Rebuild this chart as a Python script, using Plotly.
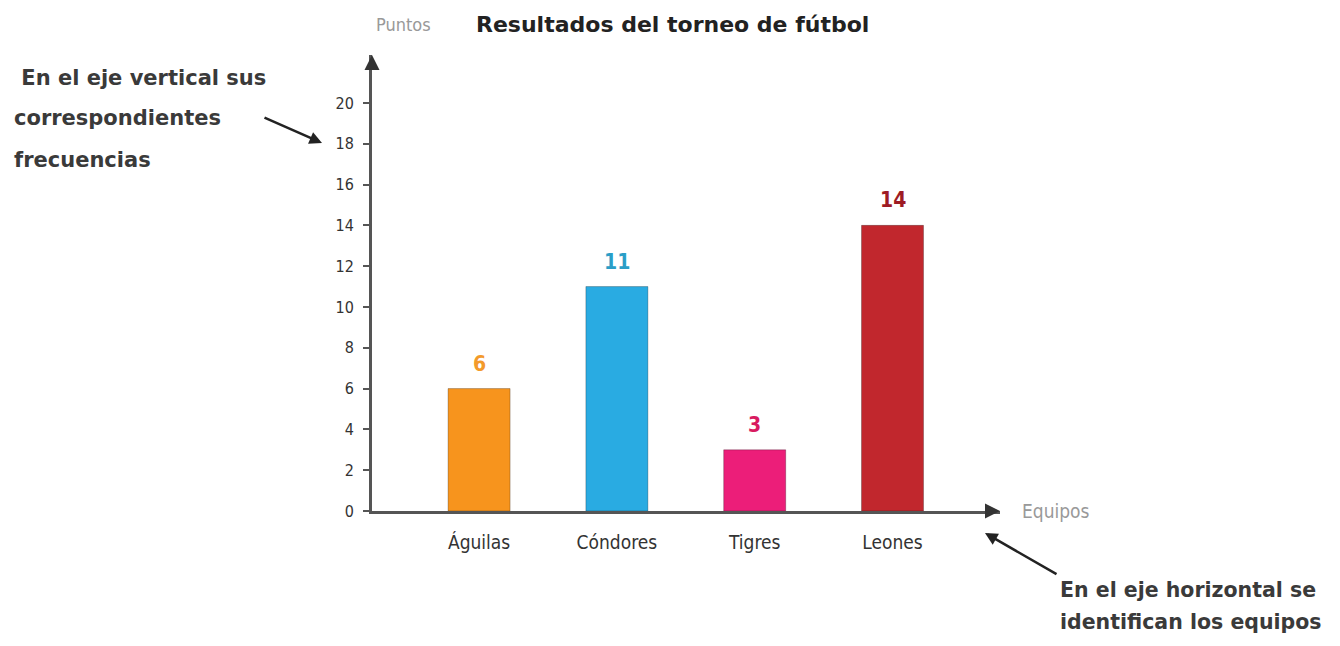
import plotly.graph_objects as go

equipos = ["Águilas", "Cóndores", "Tigres", "Leones"]
puntos = [6, 11, 3, 14]
bar_colors = ["#F7941D", "#29ABE2", "#EC1E79", "#C1272D"]
label_colors = ["#F39A2B", "#2A9EC7", "#D81B60", "#9E1B24"]
y_ticks = list(range(0, 21, 2))
nota_vertical = [" En el eje vertical sus", "correspondientes", "frecuencias"]
nota_horizontal = ["En el eje horizontal se", "identifican los equipos"]

FONT = "DejaVu Sans Condensed"
WIDE = "DejaVu Sans"

fig = go.Figure()
fig.add_trace(go.Bar(
    x=equipos, y=puntos,
    marker=dict(color=bar_colors, line=dict(color="rgba(0,0,0,0.25)", width=1)),
    width=0.45,
    cliponaxis=False,
))

OFF = 8  # page body margin
L, R, T, B = 372, 1000, 55, 511  # plot area in page pixels
W, H = R - L, B - T
FW, FH = 1340 - OFF, 646 - OFF

def px(x):
    return (x - L) / W

def py(y):
    return (B - y) / H

ann = []
# value labels above bars
for e, v, c in zip(equipos, puntos, label_colors):
    ann.append(dict(x=e, y=v, xref="x", yref="y", text="<b>%d</b>" % v, showarrow=False,
                    yanchor="middle", yshift=25, font=dict(size=21, color=c, family=FONT)))
# axis arrow heads
ann.append(dict(x=0, y=1, xref="paper", yref="paper", ax=0, ay=12, text="",
                showarrow=True, arrowhead=2, arrowsize=1, arrowwidth=3, arrowcolor="#333"))
ann.append(dict(x=1, y=0, xref="paper", yref="paper", ax=-12, ay=0, text="",
                showarrow=True, arrowhead=2, arrowsize=1, arrowwidth=3, arrowcolor="#333"))
ann.append(dict(x=px(374), y=py(25), xref="paper", yref="paper", text="Puntos", yanchor="middle",
                showarrow=False, font=dict(size=18, color="#999", family=FONT)))
ann.append(dict(x=px(672), y=py(25), xref="paper", yref="paper", yanchor="middle",
                text="<b>Resultados del torneo de fútbol</b>",
                showarrow=False, font=dict(size=22, color="#222", family=WIDE)))
ann.append(dict(x=px(1020), y=py(511), xref="paper", yref="paper", text="Equipos", yanchor="middle",
                showarrow=False, xanchor="left", font=dict(size=19, color="#999", family=FONT)))
# explanatory notes, one annotation per line
for i, line in enumerate(nota_vertical):
    ann.append(dict(x=px(12), y=py([78, 118, 160][i]), xref="paper", yref="paper",
                    text="<b>%s</b>" % line, showarrow=False, xanchor="left", yanchor="middle",
                    font=dict(size=21, color="#3a3a3a", family=WIDE)))
ann.append(dict(x=px(322), y=py(143), xref="paper", yref="paper", ax=263 - 322, ay=117 - 143,
                text="", showarrow=True, arrowhead=2, arrowsize=1, arrowwidth=2.5, arrowcolor="#222"))
for i, line in enumerate(nota_horizontal):
    ann.append(dict(x=px(1058), y=py([590, 622][i]), xref="paper", yref="paper",
                    text="<b>%s</b>" % line, showarrow=False, xanchor="left", yanchor="middle",
                    font=dict(size=20.5, color="#3a3a3a", family=WIDE)))
ann.append(dict(x=px(985), y=py(533), xref="paper", yref="paper", ax=1058 - 985, ay=575 - 533,
                text="", showarrow=True, arrowhead=2, arrowsize=1, arrowwidth=2.5, arrowcolor="#222"))

fig.update_layout(
    width=FW, height=FH,
    margin=dict(l=L - OFF, r=FW - (R - OFF), t=T - OFF, b=FH - (B - OFF), pad=0),
    paper_bgcolor="white", plot_bgcolor="white",
    showlegend=False,
    annotations=ann,
    font=dict(family=FONT, color="#333"),
    xaxis=dict(range=[-0.777, 3.78], showline=True, linecolor="#555", linewidth=3,
               showgrid=False, ticks="", tickfont=dict(size=19, color="#333"),
               ticklabelstandoff=12, zeroline=False, fixedrange=True),
    yaxis=dict(range=[0, 22.35], tickvals=y_ticks, showline=True, linecolor="#555", linewidth=3,
               showgrid=False, ticks="outside", ticklen=6, tickcolor="#555", tickwidth=2,
               ticklabelstandoff=6, tickfont=dict(size=16, color="#333"),
               zeroline=False, fixedrange=True),
)

fig.write_html("out.html")
